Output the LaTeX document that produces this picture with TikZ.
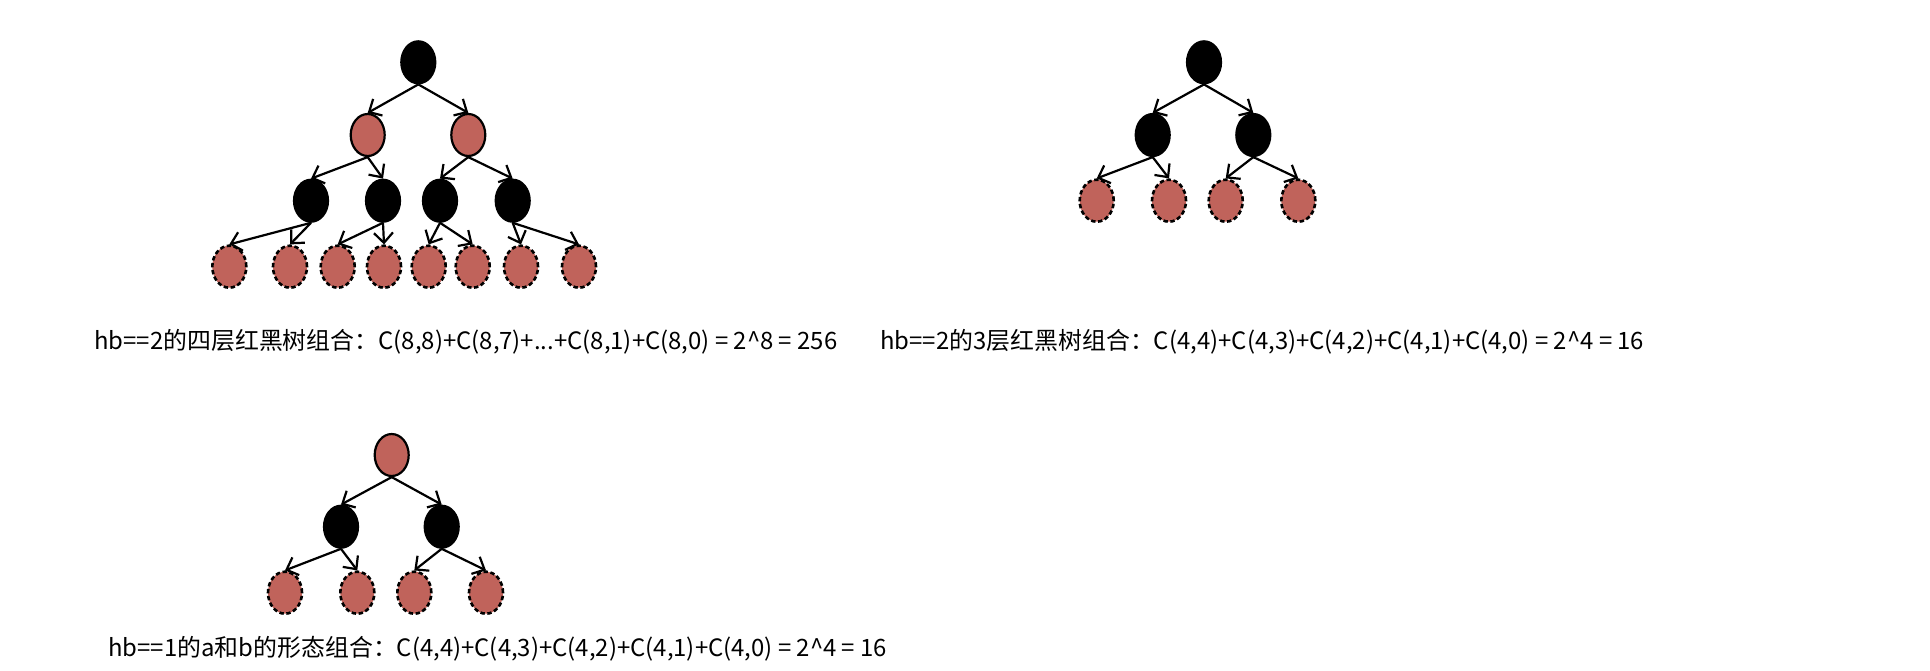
\documentclass[tikz,border=0pt]{standalone}
\usepackage{fontspec}
\setmainfont{Noto Sans CJK SC}
\usepackage{tikz}
\usetikzlibrary{arrows.meta,shapes.geometric}
\usepackage{xcolor}
\definecolor{rbred}{RGB}{192,99,91}

\begin{document}
\begin{tikzpicture}[x=0.5pt,y=-0.5pt,
    blk/.style={ellipse,draw=black,fill=black,line width=1.1pt,
      minimum width=17pt,minimum height=21pt,inner sep=0pt},
    redn/.style={blk,fill=rbred},
    nil/.style={redn,line width=1.3pt,dash pattern=on 2.2pt off 1.3pt},
    edge/.style={-{Straight Barb[length=5pt,width=9.5pt,line width=1.1pt]},line width=1.1pt},
    lbl/.style={anchor=base west,inner sep=0pt,font=\fontsize{11.95}{14}\selectfont}]
    \useasboundingbox (0,0) rectangle (1930,670);
    % Tree 1: four levels, hb==2
    \node[blk] (r1) at (418.3,62.3) {};
    \node[redn] (a1) at (367.7,135) {};
    \node[redn] (a2) at (468.3,135) {};
    \node[blk] (b1) at (311,200.7) {};
    \node[blk] (b2) at (383,200.7) {};
    \node[blk] (b3) at (440,200.7) {};
    \node[blk] (b4) at (512.7,200.7) {};
    \node[nil] (c1) at (229.3,266.7) {};
    \node[nil] (c2) at (290,266.7) {};
    \node[nil] (c3) at (337.7,266.7) {};
    \node[nil] (c4) at (384,266.7) {};
    \node[nil] (c5) at (428.7,266.7) {};
    \node[nil] (c6) at (472.7,266.7) {};
    \node[nil] (c7) at (521,266.7) {};
    \node[nil] (c8) at (579,266.7) {};
    \foreach \p/\c in {r1/a1,r1/a2,a1/b1,a1/b2,a2/b3,a2/b4,
        b1/c1,b1/c2,b2/c3,b2/c4,b3/c5,b3/c6,b4/c7,b4/c8}
      \draw[edge] (\p.south) -- (\c.north);
    \node[lbl] (t1) at (94,349)
      {hb==2的四层红黑树组合：C(8,8)+C(8,7)+...+C(8,1)+C(8,0) = 2\textasciicircum8 = 256};
    % Tree 2: three levels, hb==2
    \node[blk] (r2) at (1204,62.3) {};
    \node[blk] (d1) at (1152.7,135) {};
    \node[blk] (d2) at (1253.3,135) {};
    \node[nil] (e1) at (1096.7,200.7) {};
    \node[nil] (e2) at (1169,200.7) {};
    \node[nil] (e3) at (1225.7,200.7) {};
    \node[nil] (e4) at (1298.3,200.7) {};
    \foreach \p/\c in {r2/d1,r2/d2,d1/e1,d1/e2,d2/e3,d2/e4}
      \draw[edge] (\p.south) -- (\c.north);
    \node[lbl] (t2) at (880,349)
      {hb==2的3层红黑树组合：C(4,4)+C(4,3)+C(4,2)+C(4,1)+C(4,0) = 2\textasciicircum4 = 16};
    % Tree 3: red root, hb==1
    \node[redn] (r3) at (391.7,455) {};
    \node[blk] (f1) at (341,526.7) {};
    \node[blk] (f2) at (441.7,526.7) {};
    \node[nil] (g1) at (285,592.7) {};
    \node[nil] (g2) at (357.3,592.7) {};
    \node[nil] (g3) at (414.3,592.7) {};
    \node[nil] (g4) at (486,592.7) {};
    \foreach \p/\c in {r3/f1,r3/f2,f1/g1,f1/g2,f2/g3,f2/g4}
      \draw[edge] (\p.south) -- (\c.north);
    \node[lbl] (t3) at (108,656)
      {hb==1的a和b的形态组合：C(4,4)+C(4,3)+C(4,2)+C(4,1)+C(4,0) = 2\textasciicircum4 = 16};
\end{tikzpicture}
\end{document}
